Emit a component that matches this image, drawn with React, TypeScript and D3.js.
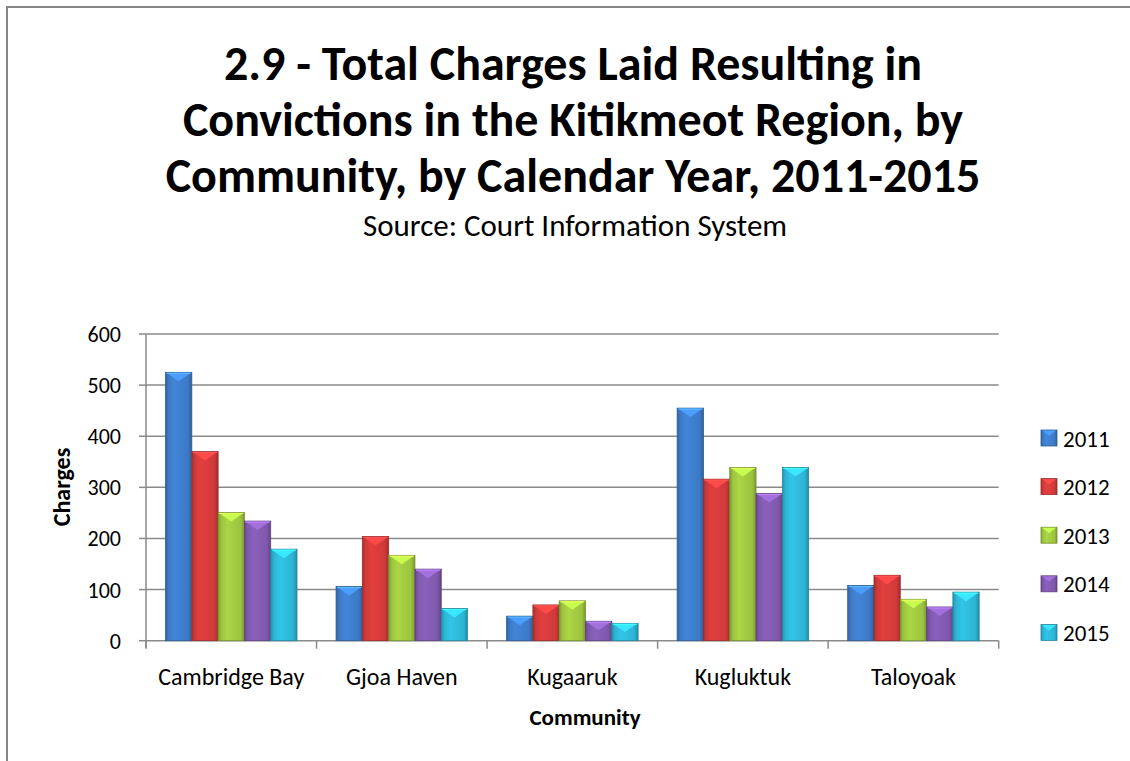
import React from "react";
import * as d3 from "d3";

const communities = ["Cambridge Bay", "Gjoa Haven", "Kugaaruk", "Kugluktuk", "Taloyoak"];
const years = ["2011", "2012", "2013", "2014", "2015"];
const values2011 = [525, 106, 48, 455, 108];
const values2012 = [370, 204, 70, 316, 128];
const values2013 = [251, 167, 78, 339, 81];
const values2014 = [234, 140, 38, 288, 66];
const values2015 = [179, 63, 34, 339, 95];
const yTicks = [0, 100, 200, 300, 400, 500, 600];
const titleLines = [
  "2.9 - Total Charges Laid Resulting in",
  "Convictions in the Kitikmeot Region, by",
  "Community, by Calendar Year, 2011-2015",
];
const subtitle = "Source: Court Information System";
const seriesColors = ["#3C7AC6", "#D03A3A", "#9CC43F", "#7F58AC", "#2DB4D4"];

const series = [values2011, values2012, values2013, values2014, values2015];

const FONT = "Carlito, Lato, 'Open Sans', sans-serif";

export default function App() {
  const W = 1130;
  const H = 761;
  const left = 146;
  const right = 998.7;
  const top = 334;
  const bottom = 640.7;

  const x0 = d3.scaleBand<string>().domain(communities).range([left, right]).paddingInner(0.229).paddingOuter(0.1145);
  const x1 = d3.scaleBand<string>().domain(years).range([0, x0.bandwidth()]).padding(0);
  const y = d3.scaleLinear().domain([0, 600]).range([bottom, top]);
  const catEdges = d3.range(communities.length + 1).map((i) => left + (i * (right - left)) / communities.length);

  return (
    <svg width={W} height={H} style={{ position: "absolute", left: 0, top: 0, background: "#fff" }} fontFamily={FONT}>
      <defs>
        {seriesColors.map((c, i) => {
          const col = d3.color(c)!;
          return (
            <linearGradient key={i} id={`g${i}`} x1="0" x2="1" y1="0" y2="0">
              <stop offset="0" stopColor={d3.color(c)!.darker(0.6).toString()} />
              <stop offset="0.12" stopColor={col.toString()} />
              <stop offset="0.35" stopColor={d3.color(c)!.brighter(0.25).toString()} />
              <stop offset="0.85" stopColor={col.toString()} />
              <stop offset="1" stopColor={d3.color(c)!.darker(0.7).toString()} />
            </linearGradient>
          );
        })}
      </defs>
      <rect x={0} y={0} width={W} height={H} fill="#fff" />
      <path d={`M7,${H} V7 H${W}`} fill="none" stroke="#878787" strokeWidth={2} />

      {titleLines.map((t, i) => (
        <text key={i} x={573} y={80 + i * 56} textAnchor="middle" fontSize={48} fontWeight="bold" fill="#000">
          {t}
        </text>
      ))}
      <text x={575} y={236} textAnchor="middle" fontSize={31} fill="#000">
        {subtitle}
      </text>

      {/* gridlines */}
      {yTicks.map((t) => (
        <g key={t}>
          <line x1={left} x2={right} y1={y(t)} y2={y(t)} stroke="#8a8a8a" strokeWidth={1.5} />
          <line x1={left - 7} x2={left} y1={y(t)} y2={y(t)} stroke="#8a8a8a" strokeWidth={1.5} />
          <text x={121} y={y(t) + 8} textAnchor="end" fontSize={22} fill="#000">
            {t}
          </text>
        </g>
      ))}
      <line x1={left} x2={left} y1={top} y2={bottom + 7} stroke="#8a8a8a" strokeWidth={1.5} />
      {catEdges.map((e, i) => (
        <line key={i} x1={e} x2={e} y1={bottom} y2={bottom + 8} stroke="#8a8a8a" strokeWidth={1.5} />
      ))}

      {/* bars */}
      {communities.map((c, ci) => (
        <g key={c} transform={`translate(${x0(c)},0)`}>
          {years.map((yr, si) => {
            const v = series[si][ci];
            const bx = x1(yr)!;
            const bw = x1.bandwidth();
            const by = y(v);
            const bh = bottom - by;
            const base = seriesColors[si];
            const bev = Math.min(9, bh / 2);
            return (
              <g key={yr}>
                <rect x={bx} y={by} width={bw} height={bh} fill={`url(#g${si})`} stroke={d3.color(base)!.darker(0.8).toString()} strokeWidth={0.8} />
                <polygon
                  points={`${bx + 1},${by + 0.5} ${bx + bw - 1},${by + 0.5} ${bx + bw / 2},${by + bev}`}
                  fill={d3.color(base)!.brighter(0.7).toString()}
                />
                <line x1={bx + 1} x2={bx + bw - 1} y1={by + 1} y2={by + 1} stroke={d3.color(base)!.brighter(1.2).toString()} strokeWidth={1} />
              </g>
            );
          })}
        </g>
      ))}

      {/* x labels */}
      {communities.map((c) => (
        <text key={c} x={x0(c)! + x0.bandwidth() / 2} y={685} textAnchor="middle" fontSize={24} fill="#000">
          {c}
        </text>
      ))}
      <text x={585} y={725} textAnchor="middle" fontSize={23} fontWeight="bold" fill="#000">
        Community
      </text>
      <text transform={`translate(70,487) rotate(-90)`} textAnchor="middle" fontSize={24} fontWeight="bold" fill="#000">
        Charges
      </text>

      {/* legend */}
      {years.map((yr, i) => {
        const cy = 438 + i * 48.6;
        return (
          <g key={yr}>
            <rect x={1041} y={cy - 8} width={16} height={16} fill={`url(#g${i})`} stroke={d3.color(seriesColors[i])!.darker(0.8).toString()} strokeWidth={0.8} />
            <polygon points={`${1042},${cy - 7.5} ${1056},${cy - 7.5} ${1049},${cy - 2}`} fill={d3.color(seriesColors[i])!.brighter(0.7).toString()} />
            <text x={1063} y={cy + 8.5} fontSize={23} fill="#000">
              {yr}
            </text>
          </g>
        );
      })}
    </svg>
  );
}
